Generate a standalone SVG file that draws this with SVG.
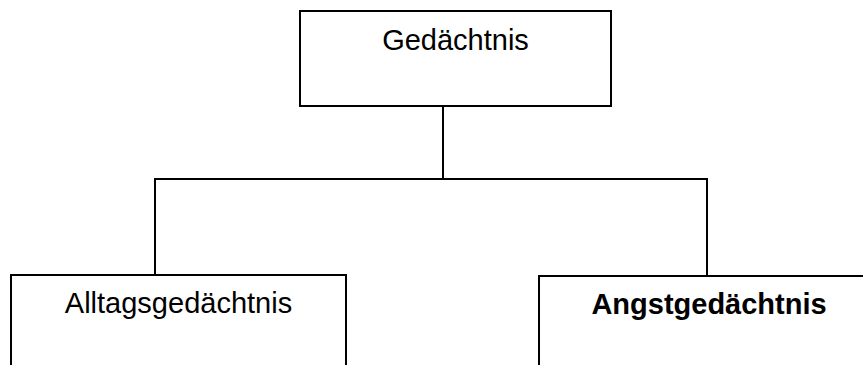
<svg xmlns="http://www.w3.org/2000/svg" width="863" height="365" viewBox="0 0 863 365">
<style>
.box{fill:#fff;stroke:#000;stroke-width:2}
.lbl{font-family:"Liberation Sans",Arial,sans-serif;font-size:29px;fill:#000;text-anchor:middle}
.b{font-weight:bold}
.con{fill:none;stroke:#000;stroke-width:2}
</style>
<rect width="863" height="365" fill="#fff"/>
<g id="connectors">
<path class="con" d="M443 106 V179 M155 275 V179 H707 V276"/>
</g>
<g id="node-gedaechtnis">
<rect class="box" x="300" y="11" width="311" height="95"/>
<text class="lbl" x="455.5" y="50">Gedächtnis</text>
</g>
<g id="node-alltag">
<rect class="box" x="11" y="275" width="335" height="120"/>
<text class="lbl" x="178.5" y="313">Alltagsgedächtnis</text>
</g>
<g id="node-angst">
<rect class="box" x="539" y="276" width="360" height="120"/>
<text class="lbl b" x="709" y="314">Angstgedächtnis</text>
</g>
</svg>
